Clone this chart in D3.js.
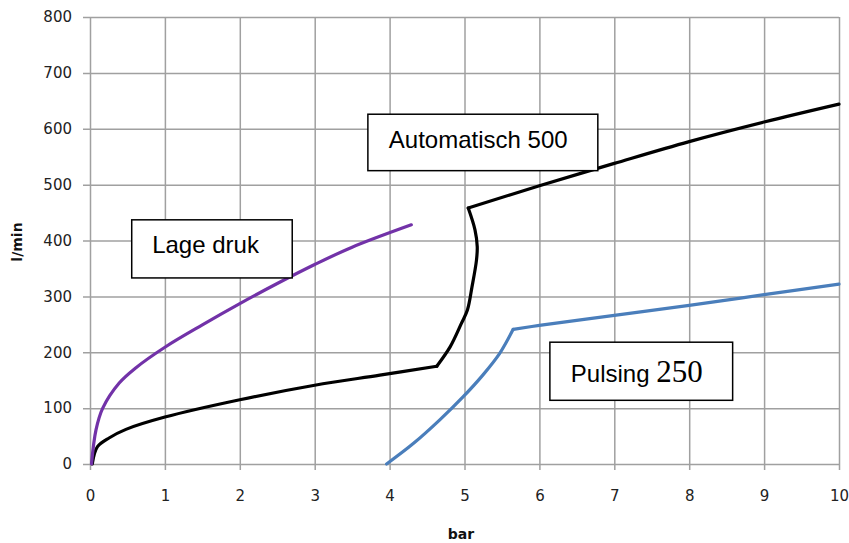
<!DOCTYPE html>
<html>
<head>
<meta charset="utf-8">
<script src="https://cdn.jsdelivr.net/npm/d3@7"></script>
<style>
  body { margin: 0; background: #fff; }
  svg { display: block; }
  .tick text { font-family: "DejaVu Sans", Verdana, sans-serif; font-size: 15px; fill: #222; }
  .grid line { stroke: #a0a0a0; stroke-width: 1.5; }
  .axis-title { font-family: "DejaVu Sans", Verdana, sans-serif; font-weight: bold; font-size: 14px; fill: #111; }
  .series { fill: none; stroke-width: 3.2; stroke-linecap: round; stroke-linejoin: round; }
  .note rect { fill: #fff; stroke: #000; stroke-width: 1.5; }
  .note text { font-family: "Liberation Sans", Arial, sans-serif; font-size: 24px; fill: #000; }
</style>
</head>
<body>
<svg id="chart" width="849" height="543"></svg>
<script>
// Tick labels
const xTicks = [0, 1, 2, 3, 4, 5, 6, 7, 8, 9, 10];
const yTicks = [0, 100, 200, 300, 400, 500, 600, 700, 800];

// Lage druk (purple), [bar, l/min]
const lageDruk = [[0.02, 0], [0.08, 61], [0.17, 100], [0.39, 145], [0.61, 172], [1, 209],
  [1.5, 249], [2, 287], [2.5, 323], [3, 357], [3.5, 388], [4.29, 428]];

// Automatisch 500 (black), three pieces
const automatischLow = [[0.03, 0], [0.1, 31], [0.26, 47], [0.48, 62], [1, 84], [2, 115],
  [3, 141], [3.87, 159], [4.63, 175]];
const automatischJump = [[4.63, 175], [4.81, 210], [4.96, 252], [5.04, 276], [5.1, 317],
  [5.16, 365], [5.17, 389], [5.14, 419], [5.05, 458]];
const automatischHigh = [[5.05, 458], [6, 498], [7, 538], [8, 577], [9, 612], [10, 644]];

// Pulsing 250 (blue), two pieces
const pulsingRise = [[3.96, 0], [4.32, 37], [4.67, 79], [4.98, 120], [5.25, 160],
  [5.47, 198], [5.65, 241]];
const pulsingHigh = [[5.65, 241], [6, 248], [7, 266], [8, 284], [9, 303], [10, 322]];

const svg = d3.select('#chart');

const x = d3.scaleLinear().domain([0, 10]).range([90, 839]);
const y = d3.scaleLinear().domain([0, 800]).range([464, 17]);

// Horizontal grid + y ticks (tick marks stick out 7px to the left)
svg.append('g').
  attr('class', 'grid').
  attr('transform', 'translate(83,0)').
  call(d3.axisLeft(y).tickValues(yTicks).tickSize(-(839 - 83)).tickPadding(11)).
  call((g) => g.select('.domain').remove());

// Vertical grid + x ticks (tick marks stick out 6px below)
svg.append('g').
  attr('class', 'grid').
  attr('transform', 'translate(0,470)').
  call(d3.axisBottom(x).tickValues(xTicks).tickSize(-(470 - 17)).tickPadding(20)).
  call((g) => g.select('.domain').remove());

svg.append('text').
  attr('class', 'axis-title').
  attr('text-anchor', 'middle').
  attr('transform', 'translate(22,242) rotate(-90)').
  text('l/min');

svg.append('text').
  attr('class', 'axis-title').
  attr('text-anchor', 'middle').
  attr('x', 461).
  attr('y', 539).
  text('bar');

// Curves: smooth pieces use Catmull-Rom, knees stay sharp between pieces
const smooth = d3.line().x((d) => x(d[0])).y((d) => y(d[1])).curve(d3.curveCatmullRom.alpha(0.5));

const pieces = [
  {data: pulsingRise, color: '#4a7ebb'},
  {data: pulsingHigh, color: '#4a7ebb'},
  {data: automatischLow, color: '#000'},
  {data: automatischJump, color: '#000'},
  {data: automatischHigh, color: '#000'},
  {data: lageDruk, color: '#7232a8'}
];

svg.selectAll('.series').
  data(pieces).
  enter().
  append('path').
    attr('class', 'series').
    attr('stroke', (d) => d.color).
    attr('d', (d) => smooth(d.data));

// Label boxes, anchored in data units
const notes = [
  {x0: 0.557, y0: 437, x1: 2.7, y1: 333, tx: 0.83, ty: 377, text: 'Lage druk'},
  {x0: 3.71, y0: 626, x1: 6.78, y1: 525, tx: 3.99, ty: 565, text: 'Automatisch 500'},
  {x0: 6.14, y0: 218, x1: 8.58, y1: 114, tx: 6.42, ty: 147, text: 'Pulsing ', num: '250'}
];

const note = svg.selectAll('.note').
  data(notes).
  enter().
  append('g').
    attr('class', 'note');
note.append('rect').
  attr('x', (d) => x(d.x0)).
  attr('y', (d) => y(d.y0)).
  attr('width', (d) => x(d.x1) - x(d.x0)).
  attr('height', (d) => y(d.y1) - y(d.y0));
const label = note.append('text').
  attr('x', (d) => x(d.tx)).
  attr('y', (d) => y(d.ty)).
  attr('xml:space', 'preserve').
  text((d) => d.text);
label.filter((d) => d.num).
  append('tspan').
    style('font-family', '"Liberation Serif", "Times New Roman", serif').
    style('font-size', '31px').
    text((d) => d.num);
</script>
</body>
</html>
